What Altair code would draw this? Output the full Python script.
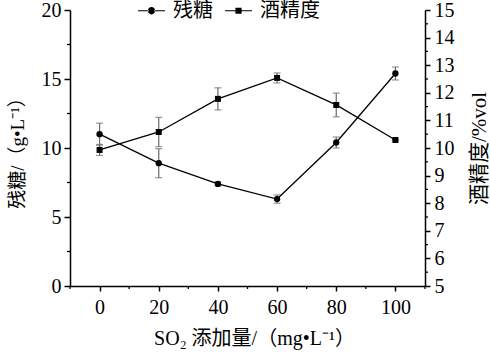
import altair as alt
import pandas as pd

# ---- data ----
so2 = [0, 20, 40, 60, 80, 100]
sugar = [11.0, 8.9, 7.4, 6.3, 10.4, 15.4]
sugar_err = [0.8, 1.05, 0.15, 0.3, 0.4, 0.47]
alcohol = [9.93, 10.58, 11.78, 12.54, 11.56, 10.29]
alcohol_err = [0.2, 0.53, 0.4, 0.18, 0.43, 0.0]

series_names = ["残糖", "酒精度"]

x_major = [0, 20, 40, 60, 80, 100]
x_minor = [-10, 10, 30, 50, 70, 90, 110]
yl_major = [0, 5, 10, 15, 20]
yl_minor = [2.5, 7.5, 12.5, 17.5]
yr_major = [5, 6, 7, 8, 9, 10, 11, 12, 13, 14, 15]
yr_minor = [5.5, 6.5, 7.5, 8.5, 9.5, 10.5, 11.5, 12.5, 13.5, 14.5]

NUM_FONT = "Liberation Serif"
FONT = "Liberation Serif, Noto Sans CJK SC"
ERR_COLOR = "#6a6a6a"

sugar_df = pd.DataFrame({
    "x": so2,
    "sugar": sugar,
    "lo": [v - e for v, e in zip(sugar, sugar_err)],
    "hi": [v + e for v, e in zip(sugar, sugar_err)],
    "series": series_names[0],
})
alc_df = pd.DataFrame({
    "x": so2,
    "alc": alcohol,
    "lo": [v - e for v, e in zip(alcohol, alcohol_err)],
    "hi": [v + e for v, e in zip(alcohol, alcohol_err)],
    "series": series_names[1],
})
xminor_df = pd.DataFrame({"x": x_minor})
ylminor_df = pd.DataFrame({"v": yl_minor})
yrminor_df = pd.DataFrame({"v": yr_minor})

x_scale = alt.Scale(domain=[-10, 110], nice=False, zero=False)
x_axis = alt.Axis(
    title="SO₂ 添加量/（mg•L⁻¹）", values=x_major, tickSize=5,
    labelPadding=6, titlePadding=11, format="d", titleX=184,
    labelFont=NUM_FONT, titleFont=FONT, titleFontSize=20,
)
yl_scale = alt.Scale(domain=[0, 20], nice=False, zero=False)
yl_axis = alt.Axis(
    title="残糖/（g•L⁻¹）", values=yl_major, tickSize=6, orient="left",
    labelPadding=3, titlePadding=14, format="d",
    labelFont=NUM_FONT, titleFont=FONT, titleFontSize=19,
)
yr_scale = alt.Scale(domain=[5, 15], nice=False, zero=False)
yr_axis = alt.Axis(
    title="酒精度/%vol", values=yr_major, tickSize=5, orient="right",
    labelPadding=4, titlePadding=14, format="d",
    titleAngle=270, titleBaseline="top",
    labelFont=NUM_FONT, titleFont=FONT, titleFontSize=21,
)


def X(field="x"):
    return alt.X(f"{field}:Q", scale=x_scale, axis=x_axis)


def YL(field):
    return alt.Y(f"{field}:Q", scale=yl_scale, axis=yl_axis)


def YR(field):
    return alt.Y(f"{field}:Q", scale=yr_scale, axis=yr_axis)


# legend glyphs: short line (thin filled bars) through a marker
bars = "M-1,-0.045H-0.2V0.045H-1ZM0.2,-0.045H1V0.045H0.2Z"
circle_path = bars + "M-0.27,0A0.27,0.27,0,1,0,0.27,0A0.27,0.27,0,1,0,-0.27,0Z"
square_path = bars + "M-0.23,-0.23H0.23V0.23H-0.23Z"

# ---- left (残糖) layers ----
s_base = alt.Chart(sugar_df)
s_err = s_base.mark_rule(color=ERR_COLOR, strokeWidth=1.2).encode(
    x=X(), y=YL("lo"), y2="hi:Q")
s_cap_lo = s_base.mark_tick(color=ERR_COLOR, orient="horizontal", size=7, thickness=1.2).encode(
    x=X(), y=YL("lo"))
s_cap_hi = s_base.mark_tick(color=ERR_COLOR, orient="horizontal", size=7, thickness=1.2).encode(
    x=X(), y=YL("hi"))
s_line = s_base.mark_line(color="black", strokeWidth=1.3).encode(x=X(), y=YL("sugar"))
s_pts = s_base.mark_point(filled=True, color="black", shape="circle", size=40, opacity=1).encode(
    x=X(), y=YL("sugar"))
legend_layer = s_base.mark_point(filled=True, color="black", opacity=0).encode(
    x=X(), y=YL("sugar"),
    shape=alt.Shape(
        "series:N",
        scale=alt.Scale(domain=series_names, range=[circle_path, square_path]),
        legend=alt.Legend(
            title=None, orient="none", direction="horizontal",
            legendX=68, legendY=-13,
            labelFont=FONT, labelFontSize=20, labelColor="black",
            symbolSize=729, symbolStrokeWidth=0,
            symbolFillColor="black", symbolStrokeColor="black",
            symbolOpacity=1, labelOffset=8, columnPadding=12,
        ),
    ),
)
yl_minor_ticks = alt.Chart(ylminor_df).mark_rule(color="black", strokeWidth=1.3).encode(
    y=YL("v"), x=alt.value(0), x2=alt.value(-3))
x_minor_ticks = alt.Chart(xminor_df).mark_rule(color="black", strokeWidth=1.3).encode(
    x=X("x"), y=alt.value("height"), y2=alt.value({"expr": "height + 3"}))

left = alt.layer(s_err, s_cap_lo, s_cap_hi, s_line, s_pts, legend_layer,
                 yl_minor_ticks, x_minor_ticks)

# ---- right (酒精度) layers ----
a_base = alt.Chart(alc_df)
a_err = a_base.mark_rule(color=ERR_COLOR, strokeWidth=1.2).encode(
    x=X(), y=YR("lo"), y2="hi:Q")
a_cap_lo = a_base.mark_tick(color=ERR_COLOR, orient="horizontal", size=7, thickness=1.2).encode(
    x=X(), y=YR("lo"))
a_cap_hi = a_base.mark_tick(color=ERR_COLOR, orient="horizontal", size=7, thickness=1.2).encode(
    x=X(), y=YR("hi"))
a_line = a_base.mark_line(color="black", strokeWidth=1.3).encode(x=X(), y=YR("alc"))
a_pts = a_base.mark_point(filled=True, color="black", shape="square", size=36, opacity=1).encode(
    x=X(), y=YR("alc"))
yr_minor_ticks = alt.Chart(yrminor_df).mark_rule(color="black", strokeWidth=1.3).encode(
    y=YR("v"), x=alt.value("width"), x2=alt.value({"expr": "width + 3"}))

right = alt.layer(a_err, a_cap_lo, a_cap_hi, a_line, a_pts, yr_minor_ticks)

chart = (
    alt.layer(left, right)
    .resolve_scale(y="independent")
    .properties(
        width=355, height=276,
        autosize=alt.AutoSizeParams(type="none"),
        padding={"left": 70, "top": 10, "right": 65, "bottom": 71},
        background="white",
    )
    .configure_view(stroke=None)
    .configure_axis(
        grid=False, domainColor="black", domainWidth=1.5,
        tickColor="black", tickWidth=1.5,
        labelFont=NUM_FONT, labelFontSize=20, labelColor="black",
        titleFont=FONT, titleFontSize=19, titleFontWeight="normal", titleColor="black",
    )
    .configure_legend(labelFont=FONT)
)

chart.save("out.html", embed_options={"renderer": "svg", "actions": False})
